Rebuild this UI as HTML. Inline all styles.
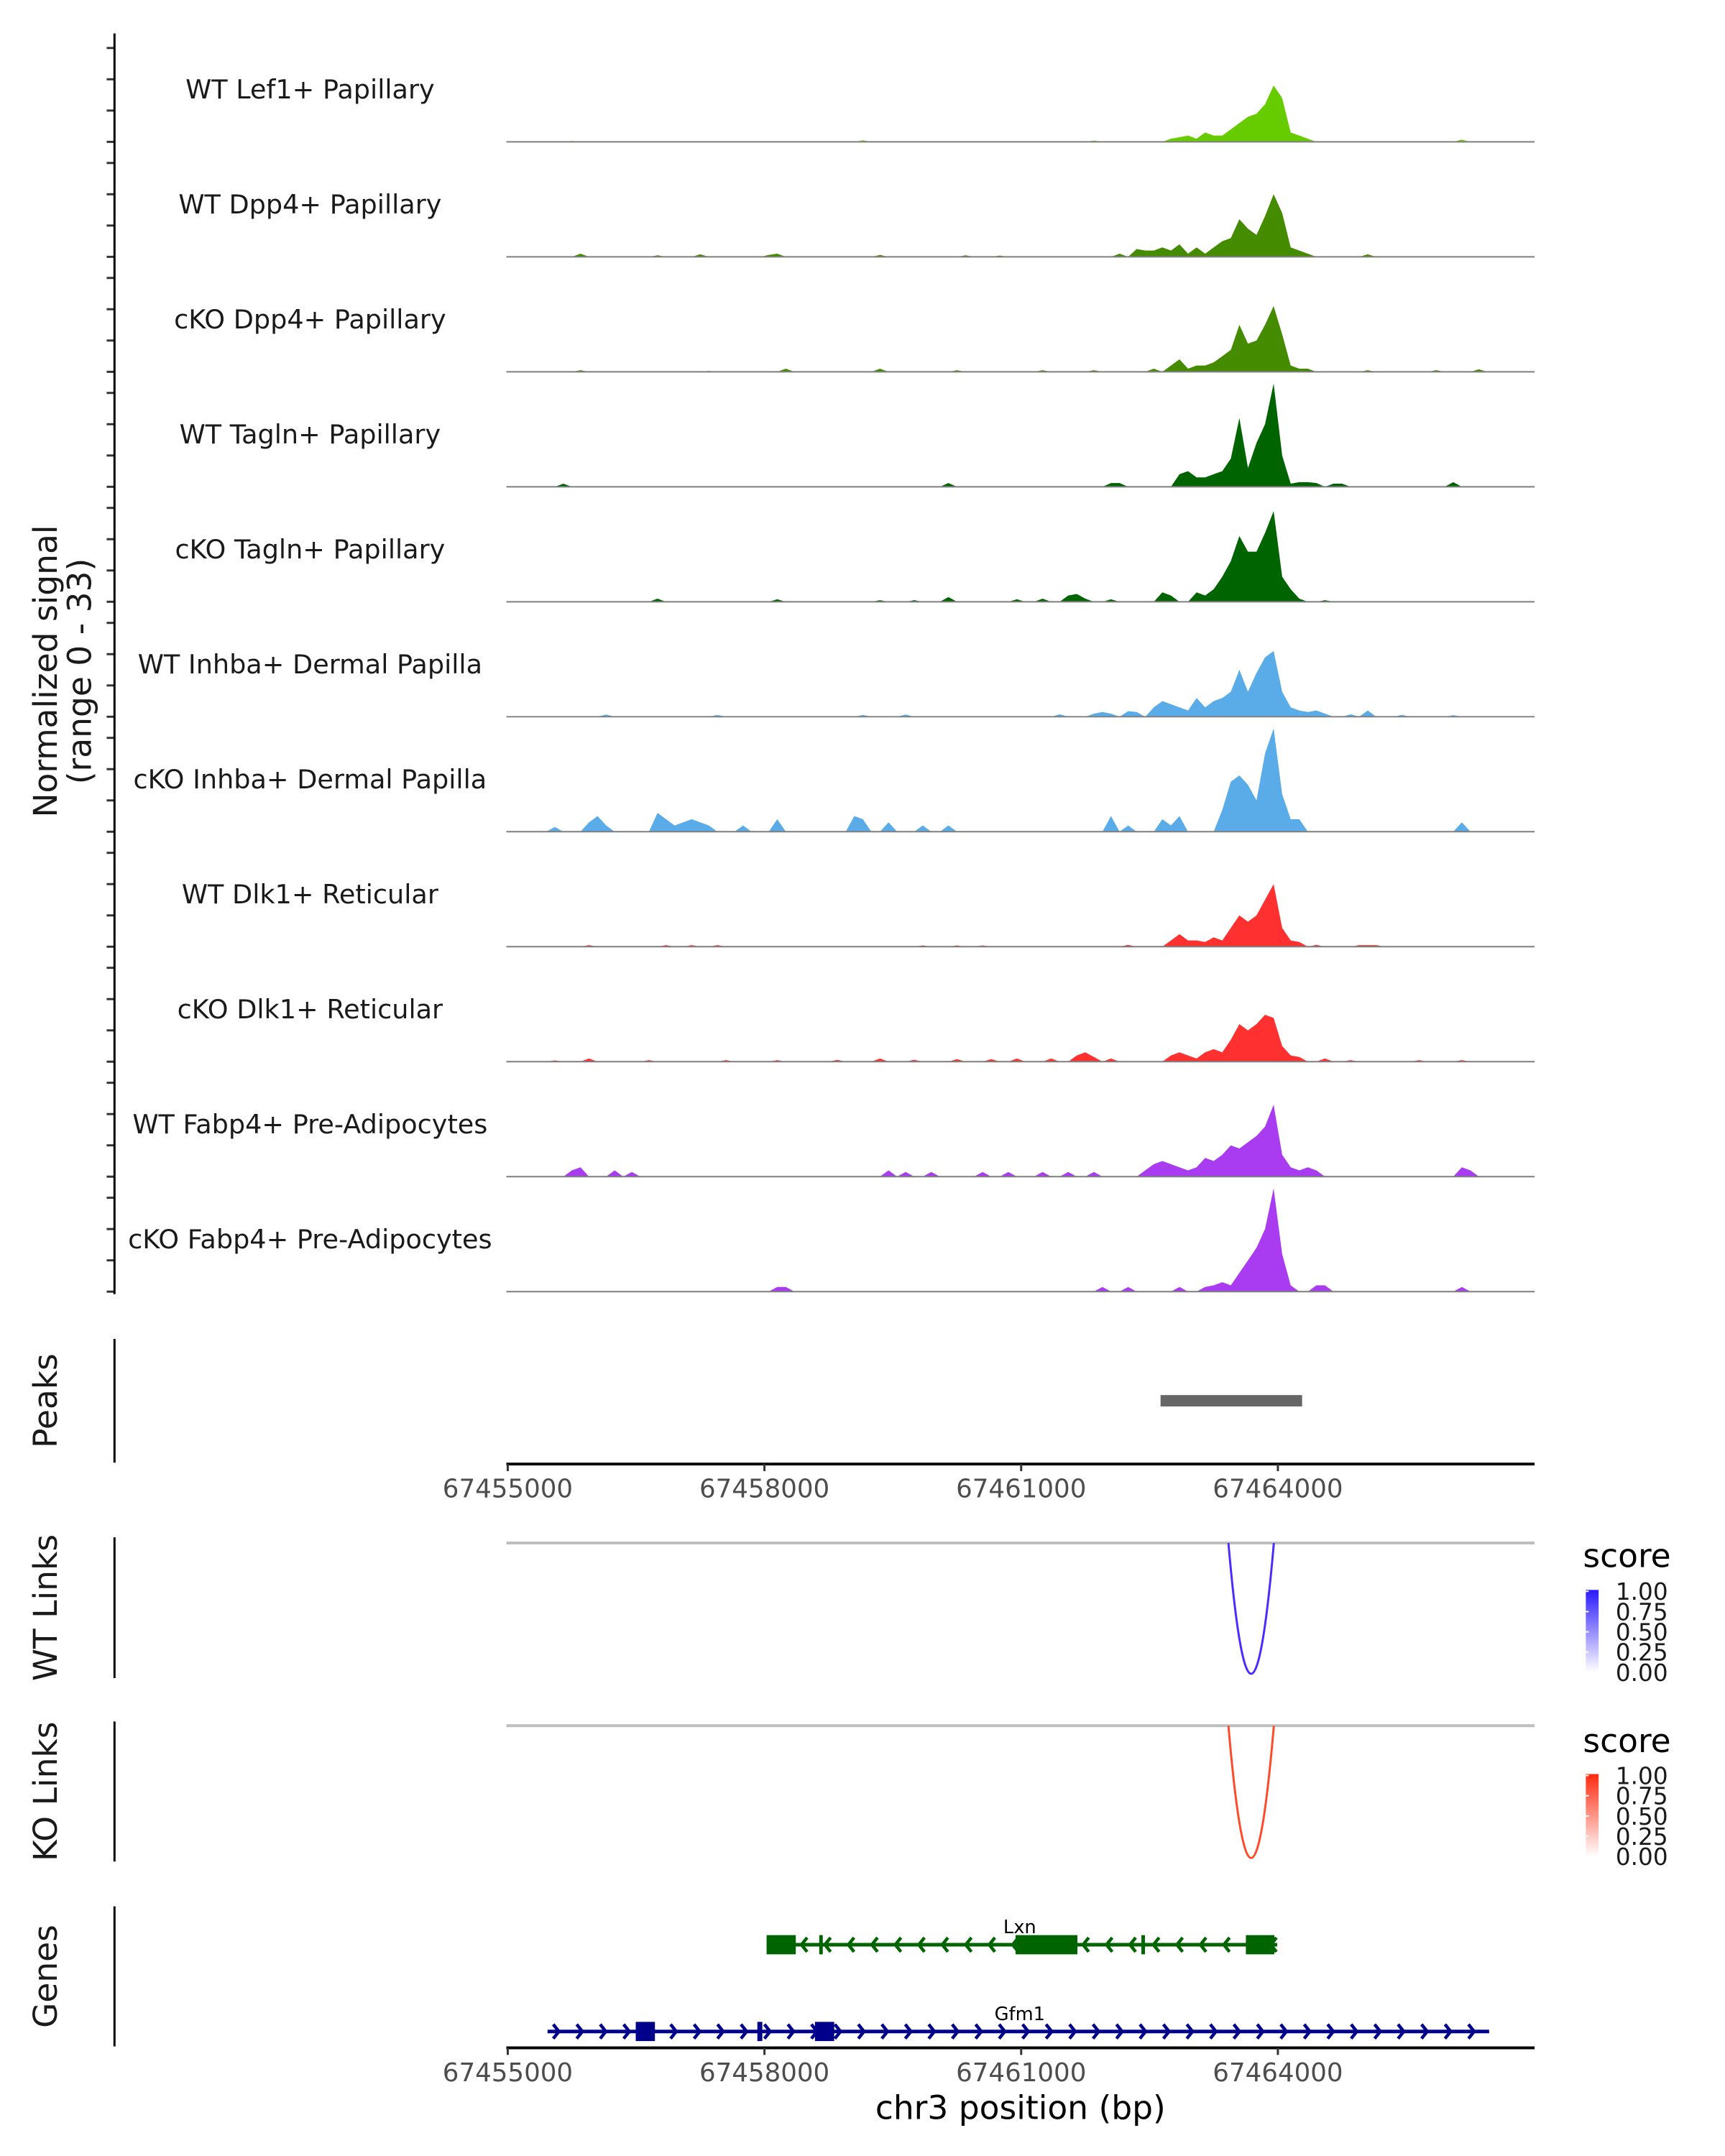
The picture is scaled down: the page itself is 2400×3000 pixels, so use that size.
<!DOCTYPE html>
<html><head><meta charset="utf-8">
<style>
html,body{margin:0;padding:0;background:#fff;}
svg{display:block;font-family:"DejaVu Sans","Liberation Sans",sans-serif;}
</style></head>
<body>
<svg id="chart" width="2400" height="3000" viewBox="0 0 2400 3000" xmlns="http://www.w3.org/2000/svg">
<defs>
  <linearGradient id="gBlue" x1="0" y1="1" x2="0" y2="0"><stop offset="0" stop-color="#ffffff"/><stop offset="1" stop-color="#2a1aff"/></linearGradient>
  <linearGradient id="gRed" x1="0" y1="1" x2="0" y2="0"><stop offset="0" stop-color="#ffffff"/><stop offset="1" stop-color="#ff2a10"/></linearGradient>
  <clipPath id="wtClip"><rect x="712" y="2170" width="1446" height="200"/></clipPath>
  <clipPath id="koClip"><rect x="712" y="2427" width="1446" height="200"/></clipPath>
</defs>
<g transform="scale(0.9894)">
<g id="tracks"></g>
<g id="axes"></g>
<g id="genes"></g>
</g>
</svg>
<script>
// ---- data ----
const regionStart = 67455000;
const regionEnd = 67467000;
const binSize = 100;
const trackNames = ["WT Lef1+ Papillary","WT Dpp4+ Papillary","cKO Dpp4+ Papillary","WT Tagln+ Papillary","cKO Tagln+ Papillary","WT Inhba+ Dermal Papilla","cKO Inhba+ Dermal Papilla","WT Dlk1+ Reticular","cKO Dlk1+ Reticular","WT Fabp4+ Pre-Adipocytes","cKO Fabp4+ Pre-Adipocytes"];
const trackColors = ["#66cc00","#458b00","#458b00","#006400","#006400","#5aace8","#5aace8","#ff3030","#ff3030","#a93cf0","#a93cf0"];
const bins1 = [7,41,68,77,78,79,80,81,82,83,84,85,86,87,88,89,90,91,92,93,111];
const vals1 = [0.3,0.5,0.4,1,1.5,2,1,3,2,2,4,6,8,9,12,18,14,3,2,1,0.7];
const bins2 = [8,17,22,30,31,43,53,57,71,73,74,75,76,77,78,79,80,81,82,83,84,85,86,87,88,89,90,91,92,93,100];
const vals2 = [1,0.5,0.8,0.6,1,0.6,0.5,0.4,1,2.5,2,2,3,2,4,1,3,1,3,5,6,12,9,7,13,20,14,3,2,1,0.8];
const bins3 = [8,23,32,43,52,62,68,75,77,78,79,80,81,82,83,84,85,86,87,88,89,90,91,92,93,100,108,113];
const vals3 = [0.5,0.3,1,1,0.5,0.5,0.5,1,2,4,1,2,2,3,5,7,15,9,10,15,21,12,2,1,1,0.5,0.5,0.8];
const bins4 = [6,51,70,71,78,79,80,81,82,83,84,85,86,87,88,89,90,91,92,93,94,96,97,110];
const vals4 = [1,1.2,1.2,1.2,4,5,3,3,4,5,9,22,6,14,20,33,10,1,1.5,1.5,1.2,1,1,1.5];
const bins5 = [17,31,43,47,51,59,62,65,66,67,70,76,77,80,81,82,83,84,85,86,87,88,89,90,91,92,95];
const vals5 = [1,0.8,0.5,0.5,1.5,0.8,1,2,2.5,1,0.8,3,2,3,2,4,8,13,21,16,16,22,29,8,4,1,0.5];
const bins6 = [11,24,41,46,64,68,69,70,72,73,75,76,77,78,79,80,81,82,83,84,85,86,87,88,89,90,91,92,93,94,95,98,100,104,110];
const vals6 = [0.7,0.6,0.6,0.7,0.8,1,1.5,1,1.8,1.5,3,5,4,3,2,6,3,5,6,8,15,8,14,19,21,8,3,2,1.5,2,1,0.8,2,0.6,0.5];
const bins7 = [5,9,10,11,17,18,19,20,21,22,23,27,31,40,41,44,48,51,70,72,76,77,78,83,84,85,86,87,88,89,90,91,92,111];
const vals7 = [1.5,3,5,2,6,4,2,3,4,3,2,2,4,5,4,3,2,2,5,2,4,2,5,7,16,18,15,10,25,33,12,4,4,3];
const bins8 = [9,18,21,24,48,52,55,72,77,78,79,80,81,82,83,84,85,86,87,88,89,90,91,92,94,99,100,101];
const vals8 = [0.5,0.5,0.5,0.5,0.4,0.4,0.4,0.6,2,4,2,2,1.5,3,2,6,10,8,10,15,20,6,2,1.5,0.6,0.5,0.5,0.5];
const bins9 = [5,9,16,25,31,38,43,47,52,56,59,63,66,67,68,70,77,78,79,80,81,82,83,84,85,86,87,88,89,90,91,92,95,98,106,111];
const vals9 = [0.4,1,0.5,0.5,0.5,0.6,1,0.6,0.8,0.8,1,1,2,3,1.5,1,2,3,2,1,3,4,3,7,12,10,12,15,14,5,2,1.5,1,0.5,0.5,0.5];
const bins10 = [7,8,12,14,44,46,49,55,58,62,65,68,74,75,76,77,78,79,80,81,82,83,84,85,86,87,88,89,90,91,92,93,94,111,112];
const vals10 = [2,3,2,1.5,2,1.5,1.5,1.5,1.5,1.5,1.5,1.5,2,4,5,4,3,2,3,6,5,7,10,9,11,13,16,23,7,3,2,3,2,3,2];
const bins11 = [31,32,69,72,78,81,82,83,84,85,86,87,88,89,90,91,94,95,111];
const vals11 = [1.5,1.5,1.5,1.5,1.5,1.5,2,3,2,6,10,14,20,33,12,2,2,2,1.5];
const trackBins = [bins1,bins2,bins3,bins4,bins5,bins6,bins7,bins8,bins9,bins10,bins11];
const trackVals = [vals1,vals2,vals3,vals4,vals5,vals6,vals7,vals8,vals9,vals10,vals11];
const axisTicks = [67455000,67458000,67461000,67464000];
const yTickValues = [0,10,20,30];
const peakStarts = [67462629];
const peakEnds = [67464283];
const linkStarts = [67463422];
const linkEnds = [67463953];
const linkScores = [0.9];
const legendTicks = ["1.00","0.75","0.50","0.25","0.00"];
const geneNames = ["Lxn","Gfm1"];
const geneStarts = [67458025,67455465];
const geneEnds = [67463992,67466469];
const geneStrands = [-1,1];
const lxnExonStarts = [67458025,67458640,67460934,67462405,67463626];
const lxnExonEnds = [67458366,67458680,67461657,67462446,67463959];
const gfm1ExonStarts = [67456496,67457917,67458590];
const gfm1ExonEnds = [67456720,67457975,67458815];

// ---- scales ----
const NS = "http://www.w3.org/2000/svg";
const pxPerBp = 0.12033;
function xs(bp){ return 714 + (bp - regionStart) * pxPerBp; }
const baseline0 = 199.5, trackStep = 161.7, pxPerUnit = 4.4;
function baseY(i){ return baseline0 + i * trackStep; }
function ys(i, v){ return baseY(i) - v * pxPerUnit; }
function mk(tag, attrs, parent){ const e = document.createElementNS(NS, tag); for (const k in attrs) e.setAttribute(k, attrs[k]); parent.appendChild(e); return e; }

const tracksG = document.getElementById('tracks');
const axesG = document.getElementById('axes');
const genesG = document.getElementById('genes');
const nBins = (regionEnd - regionStart) / binSize;

// ---- coverage tracks ----
for (let t = 0; t < trackNames.length; t++) {
  const dense = new Array(nBins).fill(0);
  trackBins[t].forEach((b, k) => { dense[b] = trackVals[t][k]; });
  let d = `M${xs(regionStart)},${baseY(t)}`;
  for (let b = 0; b < nBins; b++) {
    const v = dense[b];
    const bp = regionStart + b * binSize + binSize / 2;
    d += ` L${xs(bp).toFixed(1)},${ys(t, v).toFixed(1)}`;
  }
  d += ` L${xs(regionEnd)},${baseY(t)} Z`;
  const area = mk('path', {d: d, fill: trackColors[t], stroke: 'none'}, tracksG);
  
  
  const bl = mk('line', {x1: 712, x2: 2158, y1: baseY(t), y2: baseY(t), stroke: '#7f7f7f', 'stroke-width': 2}, tracksG);
  
  
  const lab = mk('text', {x: 436, y: baseY(t) - 61, 'text-anchor': 'middle', 'font-size': 37, fill: '#1a1a1a'}, tracksG);
  lab.textContent = trackNames[t];
  
  
  yTickValues.forEach(v => {
    const tk = mk('line', {x1: 150, x2: 160, y1: ys(t, v), y2: ys(t, v), stroke: '#333', 'stroke-width': 3}, axesG);
    
    
  });
}
const yAxis = mk('line', {x1: 161, x2: 161, y1: 47, y2: 1820, stroke: '#000', 'stroke-width': 3}, axesG);


const yt = mk('text', {transform: 'translate(80,944) rotate(-90)', 'text-anchor': 'middle', 'font-size': 46, fill: '#1a1a1a'}, axesG);


const ts1 = mk('tspan', {x: 0, dy: 0}, yt); ts1.textContent = 'Normalized signal';
const ts2 = mk('tspan', {x: 0, dy: 48}, yt); ts2.textContent = '(range 0 - 33)';

// ---- panel labels & axis lines ----
function panel(label, y1, y2, name) {
  const l = mk('line', {x1: 161, x2: 161, y1: y1, y2: y2, stroke: '#000', 'stroke-width': 3}, axesG);
  
  
  const t = mk('text', {transform: `translate(80,${(y1 + y2) / 2}) rotate(-90)`, 'text-anchor': 'middle', 'font-size': 46, fill: '#1a1a1a'}, axesG);
  t.textContent = label;
  
  
}
panel('Peaks', 1883, 2057, 'peaks');
panel('WT Links', 2162, 2360, 'wt-links');
panel('KO Links', 2421, 2618, 'ko-links');
panel('Genes', 2681, 2878, 'genes');

// ---- peaks ----
peakStarts.forEach((s, i) => {
  const r = mk('rect', {x: xs(s), y: 1962, width: xs(peakEnds[i]) - xs(s), height: 16, fill: '#666666'}, tracksG);
  
  
});

// ---- x axes ----
function xAxis(y, name) {
  const l = mk('line', {x1: 712, x2: 2158, y1: y, y2: y, stroke: '#000', 'stroke-width': 4}, axesG);
  
  
  axisTicks.forEach(v => {
    const tk = mk('line', {x1: xs(v), x2: xs(v), y1: y, y2: y + 10, stroke: '#333', 'stroke-width': 3}, axesG);
    
    
    const tl = mk('text', {x: xs(v), y: y + 47, 'text-anchor': 'middle', 'font-size': 36, fill: '#4d4d4d'}, axesG);
    tl.textContent = v;
    
    
  });
}
xAxis(2059, 'peaks-x-axis');
xAxis(2880, 'genes-x-axis');
const xt = mk('text', {x: 1435, y: 2980, 'text-anchor': 'middle', 'font-size': 46, fill: '#000'}, axesG);
xt.textContent = 'chr3 position (bp)';



// ---- links ----
function links(topY, bottomY, color, clip, name) {
  const g = mk('line', {x1: 712, x2: 2158, y1: topY, y2: topY, stroke: '#bebebe', 'stroke-width': 4}, tracksG);
  
  
  linkStarts.forEach((s, i) => {
    const x1 = xs(s), x2 = xs(linkEnds[i]);
    const depth = (bottomY - topY) * linkScores[i] / 0.9;
    const cy = 2 * (topY + depth) - topY;
    const p = mk('path', {d: `M${x1},${topY} Q${(x1 + x2) / 2},${cy} ${x2},${topY}`, fill: 'none', stroke: color, 'stroke-width': 3, 'clip-path': `url(#${clip})`}, tracksG);
    
    
  });
}
links(2170, 2354, '#4b2bff', 'wtClip', 'wt-link');
links(2427, 2613, '#ff4a2a', 'koClip', 'ko-link');

// ---- legends ----
function legend(titleY, barTop, grad, name) {
  const t = mk('text', {x: 2226, y: titleY, 'font-size': 46, fill: '#000'}, axesG);
  t.textContent = 'score';
  
  
  const bar = mk('rect', {x: 2230, y: barTop, width: 18, height: 116, fill: `url(#${grad})`}, axesG);
  
  
  legendTicks.forEach((lab, k) => {
    const y = barTop + 2 + k * 28.5;
    const tl = mk('text', {x: 2272, y: y + 12, 'font-size': 33, fill: '#1a1a1a'}, axesG);
    tl.textContent = lab;
    
    
    const tk = mk('line', {x1: 2230, x2: 2234, y1: y, y2: y, stroke: '#fff', 'stroke-width': 2}, axesG);
    
    
  });
}
legend(2204, 2236, 'gBlue', 'wt-legend');
legend(2464, 2495, 'gRed', 'ko-legend');

// ---- genes ----
const geneY = [2735, 2857];
const geneColors = ['#006400', '#00008b'];
const exonStarts = [lxnExonStarts, gfm1ExonStarts];
const exonEnds = [lxnExonEnds, gfm1ExonEnds];
geneNames.forEach((nm, g) => {
  const y = geneY[g], c = geneColors[g];
  const x1 = xs(geneStarts[g]), x2 = xs(geneEnds[g]);
  const ln = mk('line', {x1: x1, x2: x2, y1: y, y2: y, stroke: c, 'stroke-width': 5}, genesG);
  
  
  let d = '';
  for (let x = x1 + 16; x < x2 - 4; x += 33) {
    const dx = 8 * geneStrands[g];
    d += `M${x - dx},${y - 10} L${x},${y} L${x - dx},${y + 10} `;
  }
  const ch = mk('path', {d: d, fill: 'none', stroke: c, 'stroke-width': 4.5}, genesG);
  
  
  exonStarts[g].forEach((s, k) => {
    const w = Math.max(5, xs(exonEnds[g][k]) - xs(s));
    const r = mk('rect', {x: xs(s), y: y - 13.5, width: w, height: 27, fill: c}, genesG);
    
    
  });
  const lb = mk('text', {x: 1434, y: y - 16, 'text-anchor': 'middle', 'font-size': 26, fill: '#000'}, genesG);
  lb.textContent = nm;
  
  
});
</script>
</body></html>
